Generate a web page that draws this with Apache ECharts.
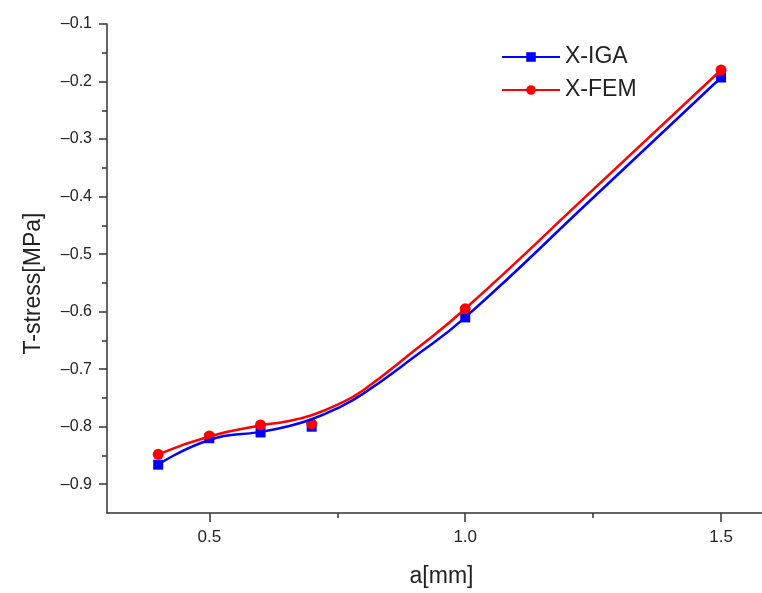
<!DOCTYPE html>
<html>
<head>
<meta charset="utf-8">
<script src="https://cdn.jsdelivr.net/npm/echarts@6/dist/echarts.min.js"></script>
<style>
  html, body { margin: 0; padding: 0; background: #fff; }
  #chart { width: 762px; height: 593px; }
</style>
</head>
<body>
<div id="chart"></div>
<script>
// crack length a [mm] and computed T-stress (markers)
const crackLength = [0.4, 0.5, 0.6, 0.7, 1.0, 1.5];
const xigaValues = [-0.866, -0.820, -0.810, -0.800, -0.610, -0.193];
const xfemValues = [-0.848, -0.816, -0.797, -0.795, -0.595, -0.180];

// fitted curves as drawn in the figure
const curveX = [0.4, 0.5, 0.6, 0.65, 0.7, 0.75, 0.8, 0.9, 1.0, 1.25, 1.5];
const xigaCurve = [-0.866, -0.823, -0.809, -0.800, -0.787, -0.768, -0.743, -0.679, -0.610, -0.402, -0.193];
const xfemCurve = [-0.848, -0.817, -0.798, -0.791, -0.780, -0.762, -0.737, -0.668, -0.595, -0.388, -0.180];

// axis ticks / labels
const xMajorTicks = [0.5, 1.0, 1.5];
const xMinorTicks = [0.75, 1.25];
const yMajorTicks = [-0.9, -0.8, -0.7, -0.6, -0.5, -0.4, -0.3, -0.2, -0.1];
const yMinorTicks = [-0.85, -0.75, -0.65, -0.55, -0.45, -0.35, -0.25, -0.15];

const FONT = 'Liberation Sans, Arial, sans-serif';
const X_MIN = 0.3, X_MAX = 1.58;
const Y_MIN = -0.95, Y_MAX = -0.1;
const BLUE = '#0000ff', RED = '#ff0000';

function pairs(xs, ys) {
    return xs.map((x, i) => [x, ys[i]]);
}

function fmtX(v) {
    return v.toFixed(1);
}
function fmtY(v) {
    return v.toFixed(1).replace('-', '\u2013');
}

// second axis only draws the short minor ticks
function minorAxis(base, ticks, len) {
    return Object.assign({}, base, {
        name: '',
        axisLine: {show: false},
        axisLabel: {show: false},
        axisTick: {show: true, inside: false, length: len, customValues: ticks,
            lineStyle: {color: '#333', width: 1.5}},
        splitLine: {show: false}
    });
}

const xBase = {
    type: 'value', min: X_MIN, max: X_MAX, position: 'bottom',
    splitLine: {show: false}
};
const yBase = {
    type: 'value', min: Y_MIN, max: Y_MAX, position: 'left',
    splitLine: {show: false}
};

const xMain = Object.assign({}, xBase, {
    name: 'a[mm]',
    nameLocation: 'middle',
    nameGap: 52,
    nameTextStyle: {fontFamily: FONT, fontSize: 23, color: '#222', padding: [0, 0, 0, 14]},
    axisLine: {show: true, lineStyle: {color: '#333', width: 1.5}},
    axisTick: {show: true, length: 9, customValues: xMajorTicks,
        lineStyle: {color: '#333', width: 1.5}},
    axisLabel: {show: true, margin: 16, customValues: xMajorTicks, formatter: fmtX,
        fontFamily: FONT, fontSize: 17, color: '#222'}
});

const yMain = Object.assign({}, yBase, {
    name: 'T-stress[MPa]',
    nameLocation: 'middle',
    nameGap: 62,
    nameTextStyle: {fontFamily: FONT, fontSize: 23, color: '#222', padding: [0, 30, 0, 0]},
    axisLine: {show: true, lineStyle: {color: '#333', width: 1.5}},
    axisTick: {show: true, length: 8, customValues: yMajorTicks,
        lineStyle: {color: '#333', width: 1.5}},
    axisLabel: {show: true, margin: 15, customValues: yMajorTicks, formatter: fmtY,
        fontFamily: FONT, fontSize: 16, color: '#222'}
});

function curveSeries(name, ys, color, symbol) {
    return {
        name: name, type: 'line', smooth: 0.5,
        data: pairs(curveX, ys),
        symbol: symbol, showSymbol: false,
        lineStyle: {color: color, width: 2.5},
        itemStyle: {color: color}
    };
}
function markerSeries(name, ys, color, symbol, size) {
    return {
        name: name, type: 'scatter',
        data: pairs(crackLength, ys),
        symbol: symbol, symbolSize: size,
        itemStyle: {color: color, opacity: 1}
    };
}

const option = {
    animation: false,
    backgroundColor: '#fff',
    grid: {left: 107, right: 0, top: 24, bottom: 80, containLabel: false},
    legend: {
        left: 496, top: 40,
        orient: 'vertical',
        itemWidth: 58, itemHeight: 12, itemGap: 9,
        textStyle: {fontFamily: FONT, fontSize: 23, color: '#222', lineHeight: 24},
        data: ['X-IGA', 'X-FEM']
    },
    xAxis: [xMain, minorAxis(xBase, xMinorTicks, 5)],
    yAxis: [yMain, minorAxis(yBase, yMinorTicks, 5)],
    series: [
        curveSeries('X-IGA', xigaCurve, BLUE, 'rect'),
        markerSeries('X-IGA', xigaValues, BLUE, 'rect', 10),
        curveSeries('X-FEM', xfemCurve, RED, 'circle'),
        markerSeries('X-FEM', xfemValues, RED, 'circle', 11)
    ]
};

const chart = echarts.init(document.getElementById('chart'));
chart.setOption(option);
</script>
</body>
</html>
